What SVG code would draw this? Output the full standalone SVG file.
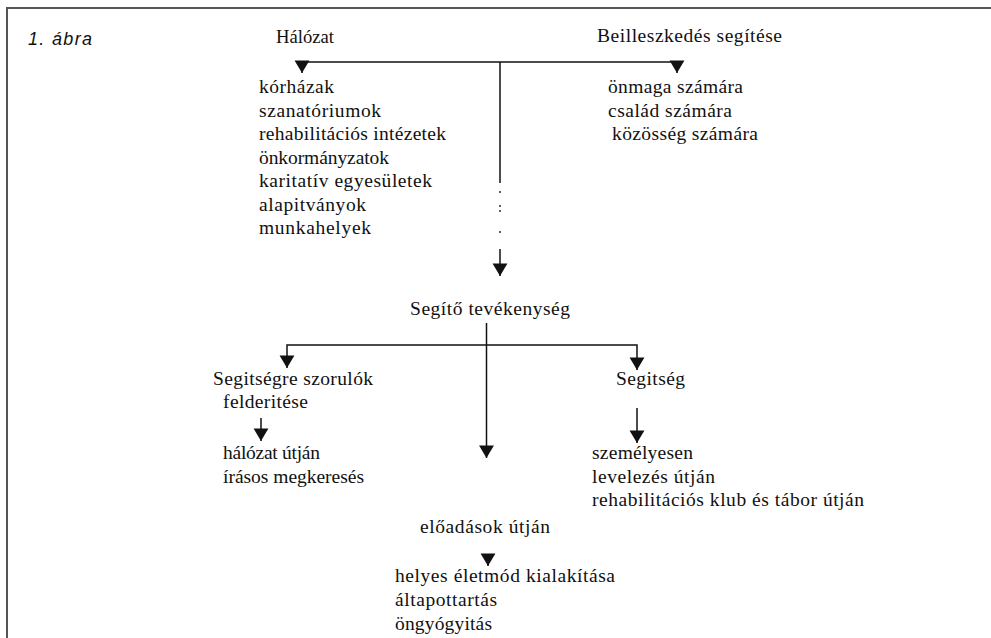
<svg xmlns="http://www.w3.org/2000/svg" width="991" height="638" viewBox="0 0 991 638">
<style>
.t{font-family:"Liberation Serif","Times New Roman",serif;font-size:19.5px;fill:#111}
.cap{font-family:"Liberation Sans",Arial,sans-serif;font-size:18px;font-style:italic;fill:#111}
.c{fill:none;stroke:#111;stroke-width:1.5}
</style>
<defs>
<marker id="ah" markerUnits="userSpaceOnUse" markerWidth="14" markerHeight="16" viewBox="0 -7 12 14" refX="11" refY="0" orient="auto">
<path d="M0,-6.5 L11,0 L0,6.5 Z" fill="#111"/>
</marker>
</defs>
<rect x="7" y="8" width="1000" height="700" fill="none" stroke="#555" stroke-width="2"/>
<text class="cap" x="28" y="45" textLength="64" lengthAdjust="spacing">1. ábra</text>
<g id="connectors">
<path class="c" d="M302 62 H677"/>
<path class="c" d="M302 62 V73" marker-end="url(#ah)"/>
<path class="c" d="M677 62 V73" marker-end="url(#ah)"/>
<path class="c" d="M500 62 V183"/>
<circle cx="500" cy="192" r="0.9" fill="#111"/>
<circle cx="500" cy="206" r="0.9" fill="#111"/>
<circle cx="500" cy="211" r="0.9" fill="#111"/>
<circle cx="500" cy="232" r="0.9" fill="#111"/>
<path class="c" d="M500 249 V276" marker-end="url(#ah)"/>
<path class="c" d="M486.5 323 V458" marker-end="url(#ah)"/>
<path class="c" d="M486.5 345 H287 V368" marker-end="url(#ah)"/>
<path class="c" d="M486.5 345 H637 V370" marker-end="url(#ah)"/>
<path class="c" d="M261 418 V441" marker-end="url(#ah)"/>
<path class="c" d="M637 408 V443" marker-end="url(#ah)"/>
<path class="c" d="M488 555 V566" marker-end="url(#ah)"/>
</g>
<g id="halozat">
<text class="t" x="276" y="43" textLength="58" lengthAdjust="spacingAndGlyphs">Hálózat</text>
</g>
<g id="halozat-lista">
<text class="t" x="259" y="93" textLength="75" lengthAdjust="spacing">kórházak</text>
<text class="t" x="259" y="116.5" textLength="122" lengthAdjust="spacing">szanatóriumok</text>
<text class="t" x="259" y="140" textLength="187" lengthAdjust="spacing">rehabilitációs intézetek</text>
<text class="t" x="259" y="163.5" textLength="130" lengthAdjust="spacing">önkormányzatok</text>
<text class="t" x="259" y="187" textLength="173" lengthAdjust="spacing">karitatív egyesületek</text>
<text class="t" x="259" y="210.5" textLength="107" lengthAdjust="spacing">alapitványok</text>
<text class="t" x="259" y="234" textLength="112" lengthAdjust="spacing">munkahelyek</text>
</g>
<g id="beilleszkedes">
<text class="t" x="597" y="42" textLength="185" lengthAdjust="spacing">Beilleszkedés segítése</text>
</g>
<g id="beilleszkedes-lista">
<text class="t" x="608" y="93" textLength="135" lengthAdjust="spacing">önmaga számára</text>
<text class="t" x="608" y="116.5" textLength="124" lengthAdjust="spacing">család számára</text>
<text class="t" x="612" y="140" textLength="146" lengthAdjust="spacing">közösség számára</text>
</g>
<g id="segito">
<text class="t" x="410" y="315" textLength="160" lengthAdjust="spacing">Segítő tevékenység</text>
</g>
<g id="szorulok">
<text class="t" x="213" y="385" textLength="160" lengthAdjust="spacing">Segitségre szorulók</text>
<text class="t" x="223" y="408" textLength="85" lengthAdjust="spacing">felderitése</text>
</g>
<g id="felderites-lista">
<text class="t" x="223" y="459" textLength="97" lengthAdjust="spacing">hálózat útján</text>
<text class="t" x="223" y="482.5" textLength="141" lengthAdjust="spacing">írásos megkeresés</text>
</g>
<g id="segitseg">
<text class="t" x="616" y="385" textLength="69" lengthAdjust="spacing">Segitség</text>
</g>
<g id="segitseg-lista">
<text class="t" x="592" y="459" textLength="101" lengthAdjust="spacing">személyesen</text>
<text class="t" x="592" y="482.5" textLength="123" lengthAdjust="spacing">levelezés útján</text>
<text class="t" x="592" y="506" textLength="272" lengthAdjust="spacing">rehabilitációs klub és tábor útján</text>
</g>
<g id="eloadasok">
<text class="t" x="420" y="533" textLength="130" lengthAdjust="spacing">előadások útján</text>
</g>
<g id="eloadasok-lista">
<text class="t" x="395" y="582" textLength="220" lengthAdjust="spacing">helyes életmód kialakítása</text>
<text class="t" x="395" y="606" textLength="102" lengthAdjust="spacing">áltapottartás</text>
<text class="t" x="395" y="630" textLength="97" lengthAdjust="spacing">öngyógyitás</text>
</g>
</svg>
